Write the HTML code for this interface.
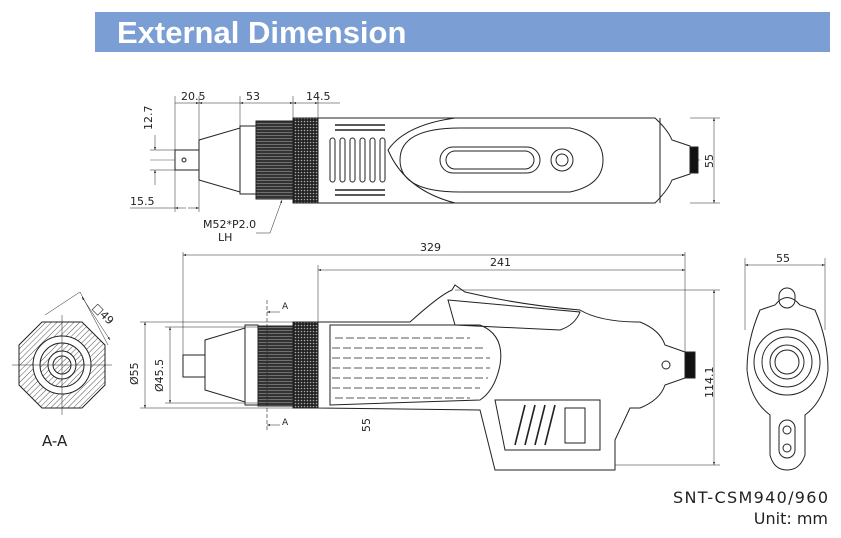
<!DOCTYPE html>
<html><head><style>
body{margin:0;background:#fff;width:841px;height:533px;overflow:hidden;font-family:"Liberation Sans",sans-serif}
</style></head><body>
<svg width="841" height="533" viewBox="0 0 841 533" xmlns="http://www.w3.org/2000/svg" font-family="Liberation Sans, sans-serif">
<defs>
<pattern id="kn" width="3" height="3" patternUnits="userSpaceOnUse"><rect width="3" height="3" fill="#222"/><circle cx="1.5" cy="1.5" r="0.8" fill="#aaa"/></pattern>
<pattern id="th" width="4" height="3" patternUnits="userSpaceOnUse"><rect width="4" height="3" fill="#333"/><line x1="0" y1="0.5" x2="4" y2="0.5" stroke="#999" stroke-width="0.6"/></pattern>
<pattern id="hat" width="4" height="4" patternUnits="userSpaceOnUse" patternTransform="rotate(45)"><line x1="0" y1="0" x2="0" y2="4" stroke="#555" stroke-width="1"/></pattern>
<marker id="a" markerWidth="6" markerHeight="6" refX="6" refY="3" orient="auto-start-reverse"><path d="M0,1 L6,3 L0,5z" fill="#222"/></marker>
</defs>
<rect x="95" y="12" width="735" height="40" fill="#7b9fd4"/>
<text x="117" y="43" font-size="31" font-weight="bold" fill="#fff">External Dimension</text>

<g stroke="#222" fill="none" stroke-width="1">
<line x1="150" y1="160" x2="700" y2="160" stroke-width="0.4"/>
<rect x="175" y="150" width="24" height="20" fill="#fff"/>
<circle cx="184" cy="160" r="2"/>
<path d="M199,140 L240,128 L240,192 L199,180z" fill="#fff"/>
<rect x="240" y="126" width="16" height="68" fill="#fff"/>
<rect x="256" y="121" width="37" height="78" fill="url(#th)"/>
<rect x="293" y="118" width="25" height="85" fill="url(#kn)"/>
<path d="M318,118 L655,118 Q668,130 672,140 L690,146 L690,174 L672,180 Q668,190 655,203 L318,203z" fill="#fff"/>
<path d="M455,118 Q405,125 388,150 Q405,190 455,203" />
<path d="M400,160 Q400,128 460,128 L570,128 Q603,135 603,160 Q603,185 570,192 L460,192 Q400,192 400,160z"/>
<rect x="440" y="147" width="100" height="26" rx="13"/>
<rect x="446" y="151" width="88" height="18" rx="9"/>
<circle cx="562" cy="160" r="11"/><circle cx="562" cy="160" r="6"/>
<g stroke-width="1.5">
<line x1="335" y1="125" x2="385" y2="125"/><line x1="335" y1="130" x2="385" y2="130"/>
<line x1="335" y1="190" x2="385" y2="190"/><line x1="335" y1="195" x2="385" y2="195"/>
</g>
<rect x="330" y="138" width="5" height="44" rx="2.5"/><rect x="340" y="138" width="5" height="44" rx="2.5"/><rect x="350" y="138" width="5" height="44" rx="2.5"/><rect x="360" y="138" width="5" height="44" rx="2.5"/><rect x="370" y="138" width="5" height="44" rx="2.5"/><rect x="380" y="138" width="5" height="44" rx="2.5"/>
<rect x="690" y="147" width="8" height="26" fill="#111"/>
<line x1="660" y1="118" x2="660" y2="203"/>
<g stroke-width="0.5">
<line x1="175" y1="96" x2="175" y2="212"/><line x1="199" y1="96" x2="199" y2="212"/>
<line x1="240" y1="96" x2="240" y2="126"/><line x1="293" y1="96" x2="293" y2="118"/><line x1="318" y1="96" x2="318" y2="118"/>
<line x1="175" y1="103" x2="199" y2="103" marker-end="url(#a)"/>
<line x1="199" y1="103" x2="240" y2="103" marker-start="url(#a)"/>
<line x1="240" y1="103" x2="293" y2="103" marker-start="url(#a)" marker-end="url(#a)"/>
<line x1="293" y1="103" x2="318" y2="103" marker-start="url(#a)" marker-end="url(#a)"/>
<line x1="318" y1="103" x2="340" y2="103"/>
<line x1="130" y1="208" x2="175" y2="208"/>
<line x1="175" y1="208" x2="186" y2="208" marker-start="url(#a)"/>
<line x1="188" y1="208" x2="199" y2="208" marker-end="url(#a)"/>
<line x1="150" y1="150" x2="175" y2="150"/><line x1="150" y1="170" x2="175" y2="170"/>
<line x1="155" y1="135" x2="155" y2="150" marker-end="url(#a)"/>
<line x1="155" y1="170" x2="155" y2="185" marker-start="url(#a)"/>
<line x1="690" y1="118" x2="720" y2="118"/><line x1="690" y1="203" x2="720" y2="203"/>
<line x1="714" y1="118" x2="714" y2="203" marker-start="url(#a)" marker-end="url(#a)"/>
<polyline points="256,233 270,233 282,200" marker-end="url(#a)"/>
</g>
</g>
<g font-size="11" fill="#222" font-family="DejaVu Sans, sans-serif">
<text x="181" y="100">20.5</text><text x="246" y="100">53</text><text x="306" y="100">14.5</text>
<text x="130" y="205">15.5</text>
<text transform="translate(152,130) rotate(-90)">12.7</text>
<text transform="translate(713,168) rotate(-90)">55</text>
<text x="203" y="228">M52*P2.0</text><text x="218" y="241">LH</text>
</g>

<g stroke="#222" fill="none" stroke-width="1">
<rect x="183" y="355" width="22" height="22" fill="#fff"/>
<path d="M205,340 L245,328 L245,402 L205,390z" fill="#fff"/>
<rect x="245" y="325" width="13" height="80" fill="#fff"/>
<rect x="258" y="326" width="35" height="80" fill="url(#th)"/>
<rect x="293" y="322" width="25" height="86" fill="url(#kn)"/>
<path d="M318,322 L410,322 Q440,295 452,290 L455,285 L465,292 Q520,305 580,310 Q600,322 640,322 Q660,330 665,345 L685,352 L685,378 L665,385 Q660,400 640,408 L630,408 L615,440 L615,470 L495,470 L480,410 L318,408z" fill="#fff"/>
<path d="M330,325 L480,325 Q505,335 500,365 Q495,390 480,400 L330,405z"/>
<path d="M448,300 L580,312 Q575,325 560,330 L455,325z"/>
<path d="M495,400 L600,400 L600,450 L505,450z"/>
<g stroke-width="1.6"><line x1="515" y1="445" x2="525" y2="405"/><line x1="525" y1="445" x2="535" y2="405"/><line x1="535" y1="445" x2="545" y2="405"/><line x1="545" y1="445" x2="555" y2="405"/></g>
<rect x="565" y="408" width="20" height="35"/>
<rect x="685" y="352" width="10" height="26" fill="#111"/>
<circle cx="666" cy="365" r="4"/>
<g stroke-width="0.8">
<line x1="335" y1="338" x2="470" y2="338" stroke-dasharray="8 3"/><line x1="332" y1="348" x2="485" y2="348" stroke-dasharray="8 3"/>
<line x1="332" y1="358" x2="490" y2="358" stroke-dasharray="8 3"/><line x1="332" y1="368" x2="490" y2="368" stroke-dasharray="8 3"/>
<line x1="332" y1="378" x2="488" y2="378" stroke-dasharray="8 3"/><line x1="332" y1="388" x2="480" y2="388" stroke-dasharray="8 3"/>
<line x1="335" y1="398" x2="470" y2="398" stroke-dasharray="8 3"/>
</g>
<line x1="267" y1="300" x2="267" y2="430" stroke-dasharray="4 2" stroke-width="0.6"/>
<g stroke-width="0.5">
<line x1="183" y1="252" x2="183" y2="355"/><line x1="318" y1="265" x2="318" y2="322"/><line x1="685" y1="252" x2="685" y2="352"/>
<line x1="183" y1="255" x2="685" y2="255" marker-start="url(#a)" marker-end="url(#a)"/>
<line x1="318" y1="270" x2="685" y2="270" marker-start="url(#a)" marker-end="url(#a)"/>
<line x1="140" y1="322" x2="293" y2="322"/><line x1="140" y1="408" x2="318" y2="408"/>
<line x1="145" y1="322" x2="145" y2="408" marker-start="url(#a)" marker-end="url(#a)"/>
<line x1="165" y1="327" x2="258" y2="327"/><line x1="165" y1="403" x2="258" y2="403"/>
<line x1="170" y1="327" x2="170" y2="403" marker-start="url(#a)" marker-end="url(#a)"/>
<line x1="455" y1="290" x2="720" y2="290"/><line x1="615" y1="465" x2="720" y2="465"/>
<line x1="714" y1="290" x2="714" y2="465" marker-start="url(#a)" marker-end="url(#a)"/>
<line x1="267" y1="312" x2="280" y2="312" marker-start="url(#a)"/>
<line x1="267" y1="425" x2="280" y2="425" marker-start="url(#a)"/>
<line x1="745" y1="265" x2="825" y2="265" marker-start="url(#a)" marker-end="url(#a)"/>
<line x1="745" y1="258" x2="745" y2="330"/><line x1="825" y1="258" x2="825" y2="330"/>
</g>
<path d="M42,322 L82,322 L105,345 L105,385 L82,408 L42,408 L19,385 L19,345z" fill="url(#hat)"/>
<circle cx="62" cy="365" r="29" fill="#fff"/>
<circle cx="62" cy="365" r="22" fill="url(#hat)"/>
<circle cx="62" cy="365" r="14" fill="#fff"/>
<circle cx="62" cy="365" r="9" fill="url(#hat)"/>
<line x1="12" y1="365" x2="112" y2="365" stroke-width="0.5"/><line x1="62" y1="315" x2="62" y2="415" stroke-width="0.5"/>
<line x1="45" y1="315" x2="80" y2="292" stroke-width="0.5"/><line x1="108" y1="345" x2="80" y2="292" stroke-width="0.5"/>
<line x1="82" y1="297" x2="110" y2="340" stroke-width="0.5" marker-start="url(#a)" marker-end="url(#a)"/>
<path d="M775,305 Q787,290 800,305 L815,310 Q828,340 828,370 Q825,400 805,415 L805,455 Q800,470 787,470 Q774,470 770,455 L770,415 Q750,400 747,370 Q747,340 760,310z" fill="#fff"/>
<rect x="779" y="288" width="16" height="20" rx="8"/>
<circle cx="787" cy="362" r="33"/><circle cx="787" cy="362" r="25"/><circle cx="787" cy="362" r="17"/><circle cx="787" cy="362" r="12"/>
<rect x="779" y="420" width="16" height="38" rx="8"/><circle cx="787" cy="430" r="4"/><circle cx="787" cy="448" r="4"/>
</g>
<g font-size="11" fill="#222" font-family="DejaVu Sans, sans-serif">
<text x="420" y="251">329</text><text x="490" y="266">241</text><text x="776" y="262">55</text>
<text x="282" y="309" font-size="9">A</text><text x="282" y="425" font-size="9">A</text>
<text transform="translate(138,385) rotate(-90)">Ø55</text>
<text transform="translate(163,392) rotate(-90)">Ø45.5</text>
<text transform="translate(370,432) rotate(-90)">55</text>
<text transform="translate(713,398) rotate(-90)">114.1</text>
<text transform="translate(92,308) rotate(45)">□49</text>
<text x="828" y="503" font-size="16" text-anchor="end" textLength="155">SNT-CSM940/960</text>
<text x="828" y="524" font-size="16" text-anchor="end">Unit: mm</text>
</g>
<text x="42" y="446" font-size="15" fill="#222" font-family="DejaVu Sans, sans-serif">A-A</text>
</svg>
</body></html>
